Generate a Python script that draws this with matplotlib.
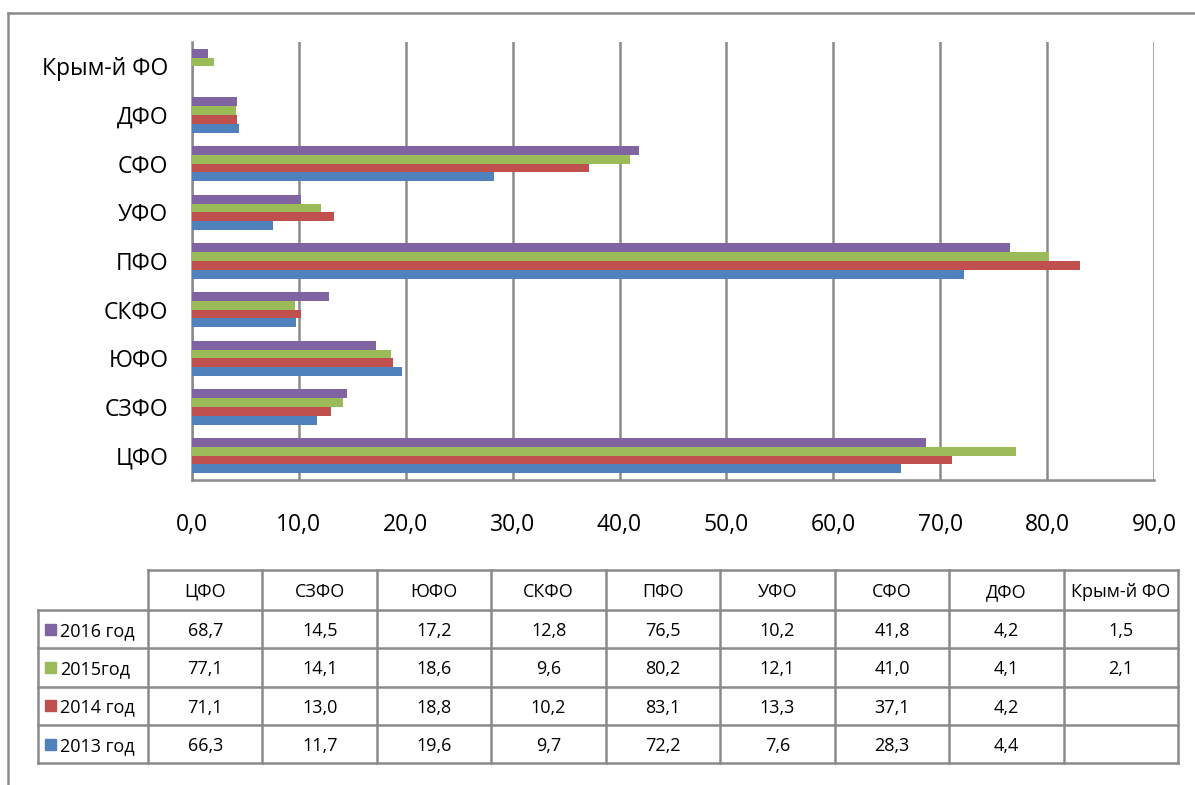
import numpy as np
import matplotlib
matplotlib.use('Agg')
import matplotlib.pyplot as plt
from matplotlib.patches import Rectangle

plt.rcParams['font.family'] = ['Open Sans', 'DejaVu Sans']

regions = ['ЦФО', 'СЗФО', 'ЮФО', 'СКФО', 'ПФО', 'УФО', 'СФО', 'ДФО', 'Крым-й ФО']
years = ['2016 год', '2015год', '2014 год', '2013 год']
v2016 = [68.7, 14.5, 17.2, 12.8, 76.5, 10.2, 41.8, 4.2, 1.5]
v2015 = [77.1, 14.1, 18.6, 9.6, 80.2, 12.1, 41.0, 4.1, 2.1]
v2014 = [71.1, 13.0, 18.8, 10.2, 83.1, 13.3, 37.1, 4.2, None]
v2013 = [66.3, 11.7, 19.6, 9.7, 72.2, 7.6, 28.3, 4.4, None]
colors = ['#8064A2', '#9BBB59', '#C0504D', '#4F81BD']
xticks = np.arange(0, 100, 10)

series = [v2016, v2015, v2014, v2013]

W, H = 1195, 785
fig = plt.figure(figsize=(W / 100, H / 100), dpi=100)

# overlay in pixel coords for frame + table
over = fig.add_axes([0, 0, 1, 1])
over.set_xlim(0, W)
over.set_ylim(H, 0)
over.axis('off')
gray = '#8a8a8a'
over.plot([8, W], [13, 13], color=gray, lw=1.8)
over.plot([8, 8], [13, H], color=gray, lw=1.8)

# bar chart
ax = fig.add_axes([192 / W, 1 - 480 / H, (1154 - 192) / W, (480 - 42) / H])
y = np.arange(len(regions))
h = 0.18
offsets = [1.5 * h, 0.5 * h, -0.5 * h, -1.5 * h]
for vals, c, off in zip(series, colors, offsets):
    vv = np.array([np.nan if v is None else v for v in vals])
    ax.barh(y + off, vv, height=h, color=c, zorder=3)

ax.set_xlim(0, 90)
ax.set_ylim(-0.5, len(regions) - 0.5)
ax.set_xticks(xticks)
ax.set_xticklabels([f'{t:.1f}'.replace('.', ',') for t in xticks], fontsize=16.5)
ax.set_yticks(y)
ax.set_yticklabels(regions, fontsize=16.5)
ax.tick_params(length=0)
ax.tick_params(axis='x', pad=24)
ax.tick_params(axis='y', pad=17)
ax.grid(axis='x', color=gray, lw=1.8, zorder=0)
for s in ['top', 'right']:
    ax.spines[s].set_visible(False)
for s in ['left', 'bottom']:
    ax.spines[s].set_color(gray)
    ax.spines[s].set_linewidth(1.8)
ax.set_facecolor('none')

# data table
col_l = 148
col_w = (1178 - 148) / len(regions)
lab_l = 38
top = 570
head_h = 40
row_h = 38.3
tfs = 13
bottom = top + head_h + row_h * len(years)
# header row
over.plot([col_l, col_l + col_w * len(regions)], [top, top], color=gray, lw=1.8)
for j in range(len(regions) + 1):
    xx = col_l + col_w * j
    over.plot([xx, xx], [top, bottom], color=gray, lw=1.8)
over.plot([lab_l, lab_l], [top + head_h, bottom], color=gray, lw=1.8)
for i in range(len(years) + 1):
    yy = top + head_h + row_h * i
    over.plot([lab_l, col_l + col_w * len(regions)], [yy, yy], color=gray, lw=1.8)
for j, r in enumerate(regions):
    over.text(col_l + col_w * (j + 0.5), top + head_h / 2, r, ha='center',
              va='center_baseline', fontsize=tfs)
for i, (yr, vals, c) in enumerate(zip(years, series, colors)):
    yc = top + head_h + row_h * (i + 0.5)
    over.add_patch(Rectangle((45, yc - 5.5), 11, 11, color=c))
    over.text(60, yc, yr, ha='left', va='center_baseline', fontsize=tfs)
    for j, v in enumerate(vals):
        if v is not None:
            over.text(col_l + col_w * (j + 0.5), yc, f'{v:.1f}'.replace('.', ','),
                      ha='center', va='center_baseline', fontsize=tfs)

fig.savefig('out.png', dpi=100)
